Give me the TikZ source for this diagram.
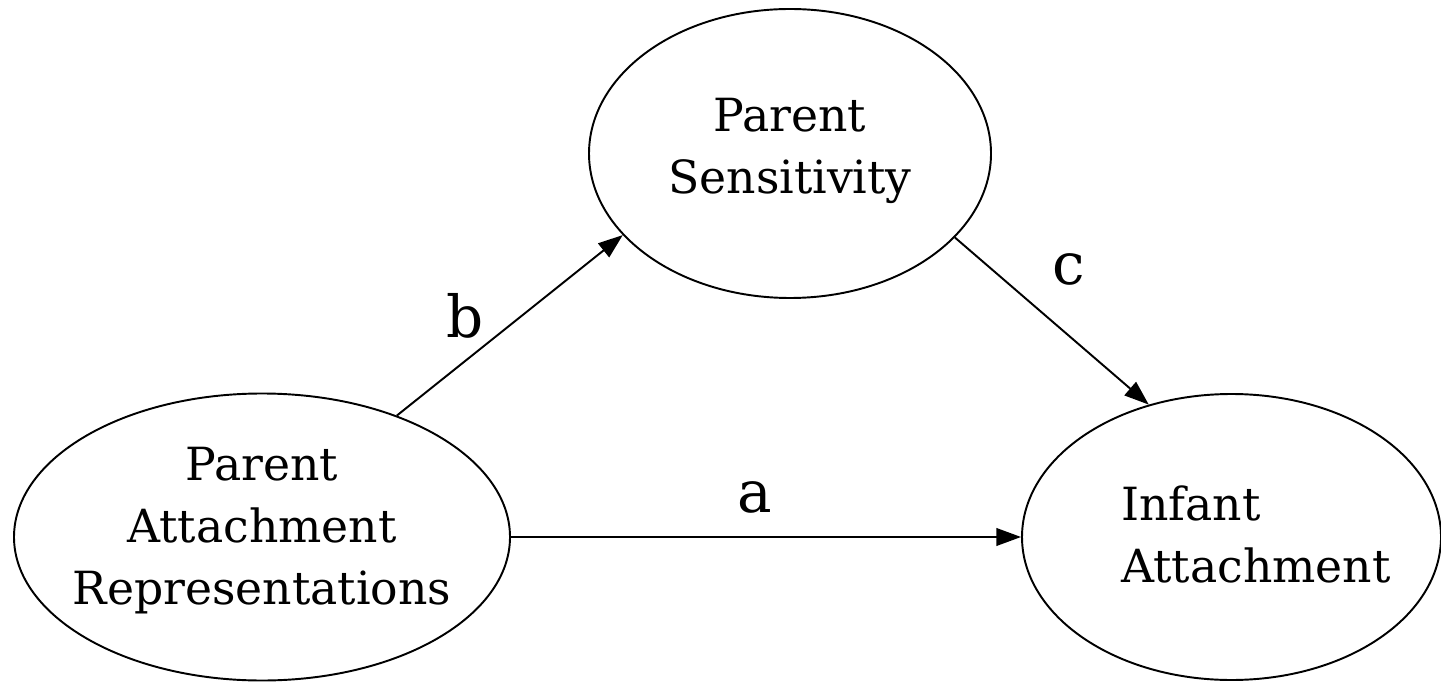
\documentclass[tikz,border=0pt]{standalone}
\usepackage{fontspec}
\setmainfont{DejaVu Serif}
\usepackage{tikz}
\usetikzlibrary{
  calc,
  positioning,
  arrows.meta,
  shapes,
  shapes.geometric
}

\begin{document}
\begin{tikzpicture}[>=Latex]
  \tikzset{
    construct/.style={
      ellipse, draw, line width=1.1pt, inner sep=0pt
    },
    construct text/.style={
      font=\fontsize{26}{35.3}\selectfont, inner sep=0pt
    },
    path arrow/.style={
      line width=1.1pt, -{Triangle[length=14pt,width=10pt]}
    },
    path label/.style={font=\fontsize{33}{40}\selectfont, anchor=base},
    % every node/.style={font=\large}
  }
\useasboundingbox (0,0) rectangle (28.82,13.62);

\node[construct, minimum width=9.92cm, minimum height=5.74cm] (par) at (5.24,2.88) {};
\node[construct, minimum width=8.04cm, minimum height=5.78cm] (sens) at (15.8,10.55) {};
\node[construct, minimum width=8.38cm, minimum height=5.72cm] (inf) at (24.63,2.88) {};

\node[construct text, align=center] (partext) at ($(par.center)+(0,0.12)$)
  {Parent\\Attachment\\Representations};
\node[construct text, align=center] (senstext) at ($(sens.center)+(0,0.05)$)
  {Parent\\Sensitivity};
\node[construct text, align=left, anchor=west] (inftext)
  at ($(inf.center)+(-2.21,0.05)$) {Infant\\Attachment};

%\draw[red] (par.center)--(sens.center)--(inf.center);

\draw[path arrow] (par.42.5) -- (sens.206.4);
\draw[path arrow] (sens.333.8) -- (inf.122.4);
\draw[path arrow] (par.east) -- (inf.west);

\node[path label] (lb) at (9.3,6.88) {b};
\node[path label] (lc) at (21.38,7.92) {c};
\node[path label] (la) at (15.1,3.38) {a};

\end{tikzpicture}
\end{document}
